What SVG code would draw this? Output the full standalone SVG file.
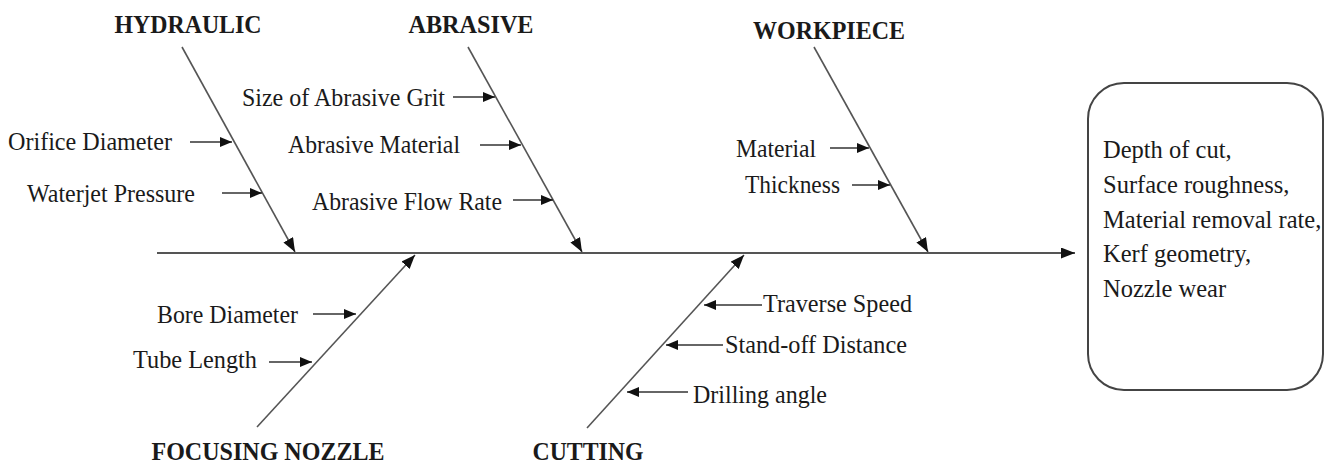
<svg xmlns="http://www.w3.org/2000/svg" width="1327" height="466" viewBox="0 0 1327 466">
  <style>
    .bg { fill: #ffffff; }
    .cat { font-family: "Liberation Serif", "Times New Roman", serif; font-weight: bold; font-size: 26px; fill: #1a1a1a; text-anchor: middle; }
    .cat-low { font-size: 25px; }
    .lbl { font-family: "Liberation Serif", "Times New Roman", serif; font-size: 26px; fill: #1a1a1a; }
    .out { font-family: "Liberation Serif", "Times New Roman", serif; font-size: 24.5px; fill: #1a1a1a; }
    .bone { stroke: #555555; stroke-width: 1.6; fill: none; }
    .spine { stroke: #555555; stroke-width: 2; fill: none; }
    .tick { stroke: #333333; stroke-width: 1.4; fill: none; }
    .box { fill: #ffffff; stroke: #444444; stroke-width: 2; }
  </style>
  <defs>
    <marker id="head" viewBox="0 0 12 10" refX="12" refY="5" markerWidth="12" markerHeight="10" markerUnits="userSpaceOnUse" orient="auto">
      <path d="M0,0 L12,5 L0,10 z" fill="#111111"/>
    </marker>
    <marker id="headBig" viewBox="0 0 14 11" refX="14" refY="5.5" markerWidth="14" markerHeight="11" markerUnits="userSpaceOnUse" orient="auto">
      <path d="M0,0 L14,5.5 L0,11 z" fill="#111111"/>
    </marker>
  </defs>
  <rect class="bg" x="0" y="0" width="1327" height="466"/>

  <!-- spine and category bones -->
  <g id="connectors">
    <line class="spine" x1="157" y1="253" x2="1075" y2="253" marker-end="url(#headBig)"/>
    <line class="bone" x1="182" y1="47" x2="295" y2="252" marker-end="url(#headBig)"/>
    <line class="bone" x1="468" y1="47" x2="582" y2="252" marker-end="url(#headBig)"/>
    <line class="bone" x1="814" y1="47" x2="928" y2="252" marker-end="url(#headBig)"/>
    <line class="bone" x1="257" y1="427" x2="415" y2="255" marker-end="url(#headBig)"/>
    <line class="bone" x1="587" y1="428" x2="744" y2="255" marker-end="url(#headBig)"/>

    <!-- cause arrows -->
    <line class="tick" x1="190" y1="142" x2="232" y2="142" marker-end="url(#head)"/>
    <line class="tick" x1="222" y1="193" x2="262" y2="193" marker-end="url(#head)"/>
    <line class="tick" x1="453" y1="97" x2="495" y2="97" marker-end="url(#head)"/>
    <line class="tick" x1="480" y1="145" x2="521" y2="145" marker-end="url(#head)"/>
    <line class="tick" x1="513" y1="200" x2="553" y2="200" marker-end="url(#head)"/>
    <line class="tick" x1="830" y1="148" x2="869" y2="148" marker-end="url(#head)"/>
    <line class="tick" x1="852" y1="185" x2="890" y2="185" marker-end="url(#head)"/>
    <line class="tick" x1="313" y1="314" x2="356" y2="314" marker-end="url(#head)"/>
    <line class="tick" x1="269" y1="362" x2="312" y2="362" marker-end="url(#head)"/>
    <line class="tick" x1="762" y1="305" x2="704" y2="305" marker-end="url(#head)"/>
    <line class="tick" x1="723" y1="345" x2="666" y2="345" marker-end="url(#head)"/>
    <line class="tick" x1="688" y1="392" x2="627" y2="392" marker-end="url(#head)"/>
  </g>

  <g id="hydraulic">
    <text class="cat" x="188" y="33" textLength="147" lengthAdjust="spacingAndGlyphs">HYDRAULIC</text>
    <text class="lbl" x="8" y="150" textLength="164" lengthAdjust="spacingAndGlyphs">Orifice Diameter</text>
    <text class="lbl" x="27" y="202" textLength="168" lengthAdjust="spacingAndGlyphs">Waterjet Pressure</text>
  </g>

  <g id="abrasive">
    <text class="cat" x="471" y="33" textLength="125" lengthAdjust="spacingAndGlyphs">ABRASIVE</text>
    <text class="lbl" x="242" y="106" textLength="203" lengthAdjust="spacingAndGlyphs">Size of Abrasive Grit</text>
    <text class="lbl" x="288" y="153" textLength="172" lengthAdjust="spacingAndGlyphs">Abrasive Material</text>
    <text class="lbl" x="312" y="210" textLength="190" lengthAdjust="spacingAndGlyphs">Abrasive Flow Rate</text>
  </g>

  <g id="workpiece">
    <text class="cat" x="829" y="39" textLength="152" lengthAdjust="spacingAndGlyphs">WORKPIECE</text>
    <text class="lbl" x="736" y="157" textLength="80" lengthAdjust="spacingAndGlyphs">Material</text>
    <text class="lbl" x="745" y="193" textLength="95" lengthAdjust="spacingAndGlyphs">Thickness</text>
  </g>

  <g id="focusing-nozzle">
    <text class="cat cat-low" x="268" y="460" textLength="233" lengthAdjust="spacingAndGlyphs">FOCUSING NOZZLE</text>
    <text class="lbl" x="157" y="323" textLength="141" lengthAdjust="spacingAndGlyphs">Bore Diameter</text>
    <text class="lbl" x="133" y="368" textLength="124" lengthAdjust="spacingAndGlyphs">Tube Length</text>
  </g>

  <g id="cutting">
    <text class="cat cat-low" x="588" y="460" textLength="111" lengthAdjust="spacingAndGlyphs">CUTTING</text>
    <text class="lbl" x="763" y="312" textLength="149" lengthAdjust="spacingAndGlyphs">Traverse Speed</text>
    <text class="lbl" x="725" y="353" textLength="182" lengthAdjust="spacingAndGlyphs">Stand-off Distance</text>
    <text class="lbl" x="693" y="403" textLength="134" lengthAdjust="spacingAndGlyphs">Drilling angle</text>
  </g>

  <g id="responses">
    <rect class="box" x="1088" y="83" width="235" height="307" rx="36" ry="36"/>
    <text class="out" x="1103" y="158">Depth of cut,</text>
    <text class="out" x="1103" y="193">Surface roughness,</text>
    <text class="out" x="1103" y="228">Material removal rate,</text>
    <text class="out" x="1103" y="262">Kerf geometry,</text>
    <text class="out" x="1103" y="297">Nozzle wear</text>
  </g>
</svg>
